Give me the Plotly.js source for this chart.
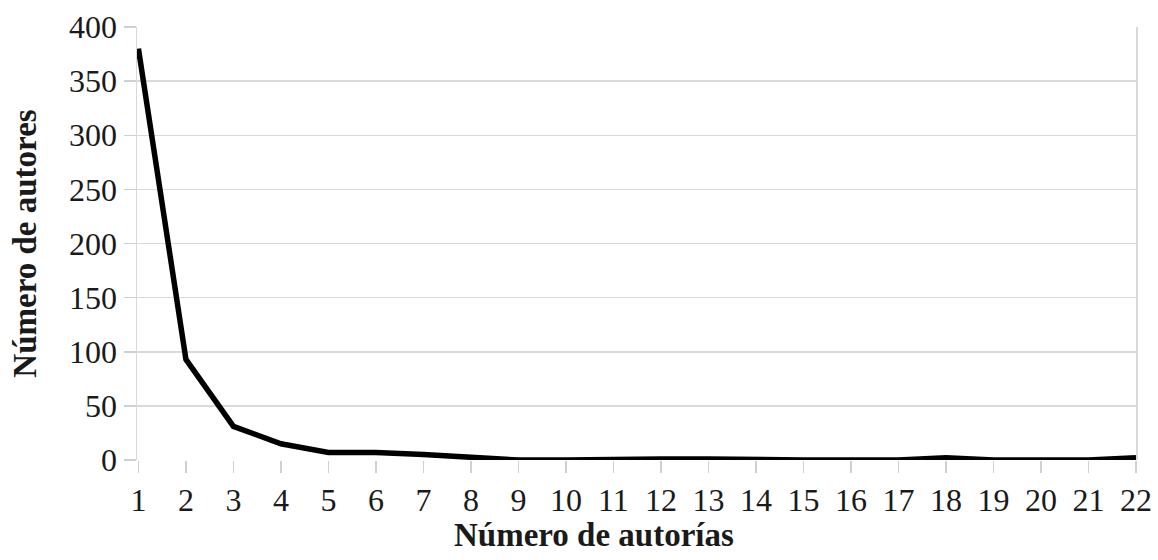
<!DOCTYPE html>
<html>
<head>
<meta charset="utf-8">
<script src="https://cdn.plot.ly/plotly-3.0.1.min.js"></script>
<style>html,body{margin:0;padding:0;background:#fff;}#chart{width:1158px;height:560px;}</style>
</head>
<body>
<div id="chart"></div>
<script>
const autorias = [1,2,3,4,5,6,7,8,9,10,11,12,13,14,15,16,17,18,19,20,21,22];
const autores = [380,93,31,15,7,7,5,3,0,0,1,1,1,0,0,0,0,2,0,0,0,2];
const xTitle = "Número de autorías";
const yTitle = "Número de autores";

const font = "Liberation Serif, Times New Roman, serif";
Plotly.newPlot('chart', [{
  x: autorias, y: autores, type: 'scatter', mode: 'lines',
  line: {color: '#000', width: 5.5}, hoverinfo: 'skip'
}], {
  width: 1158, height: 560,
  margin: {l: 137, r: 22, t: 27, b: 100},
  paper_bgcolor: '#fff', plot_bgcolor: '#fff',
  showlegend: false,
  font: {family: font, color: '#1a1a1a'},
  xaxis: {
    range: [0.97, 22], tickmode: 'array', tickvals: autorias, ticktext: autorias.map(String),
    showgrid: false, zeroline: false,
    showline: false,
    ticks: 'outside', ticklen: 12, tickcolor: '#d0d0d0', tickwidth: 1.5,
    tickfont: {size: 32, family: font, color: '#1a1a1a'}
  },
  yaxis: {
    range: [0, 400], tickvals: [0,50,100,150,200,250,300,350,400],
    showgrid: true, gridcolor: '#d9d9d9', gridwidth: 1.5, zeroline: false,
    showline: true, linecolor: '#d9d9d9', linewidth: 1.5, mirror: true,
    ticks: 'outside', ticklen: 12, tickcolor: '#d0d0d0', tickwidth: 1.5,
    tickfont: {size: 32, family: font, color: '#1a1a1a'},
    title: {text: yTitle, font: {size: 33, family: font, color: '#1a1a1a', weight: 'bold'}, standoff: 22}
  },
  annotations: [{
    text: '<b>' + xTitle + '</b>', xref: 'paper', yref: 'paper',
    x: 0.457, y: 0, xanchor: 'center', yanchor: 'middle', yshift: -75,
    showarrow: false, font: {size: 33, family: font, color: '#1a1a1a'}
  }]
}, {staticPlot: true});
</script>
</body>
</html>
